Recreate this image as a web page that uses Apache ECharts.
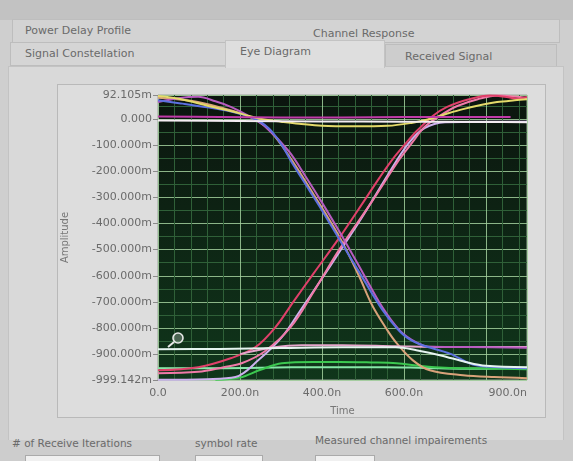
<!DOCTYPE html>
<html>
<head>
<meta charset="utf-8">
<script src="https://cdn.jsdelivr.net/npm/echarts@6/dist/echarts.min.js"></script>
<style>
  html, body { margin:0; padding:0; width:573px; height:461px; overflow:hidden; background:#cfcfcf; font-family:"DejaVu Sans", sans-serif; }
  .abs { position:absolute; box-sizing:border-box; }
  .t { position:absolute; color:#6a6a6a; font-size:11px; white-space:nowrap; }
</style>
</head>
<body>
<div class="abs" style="left:0;top:0;width:573px;height:20px;background:#c2c2c2;"></div>
<div class="abs" style="left:12px;top:19px;width:548px;height:24px;background:#d3d3d3;border:1px solid #bdbdbd;"></div>
<div class="abs" style="left:10px;top:42px;width:216px;height:24px;background:#d5d5d5;border:1px solid #bdbdbd;"></div>
<div class="abs" style="left:385px;top:44px;width:172px;height:24px;background:#cdcdcd;border:1px solid #bdbdbd;"></div>
<div class="abs" style="left:8px;top:66px;width:556px;height:376px;background:#d9d9d9;border:1px solid #c3c3c3;"></div>
<div class="abs" style="left:225px;top:40px;width:160px;height:28px;background:#dedede;border:1px solid #c3c3c3;border-bottom:none;"></div>
<div class="abs" style="left:57px;top:84px;width:489px;height:334px;background:#dddddd;border:1px solid #b9b9b9;"></div>
<div class="abs" style="left:0;top:440px;width:573px;height:21px;background:#cdcdcd;"></div>
<div class="abs" style="left:25px;top:455px;width:135px;height:10px;background:#f0f0f0;border:1px solid #aaa;"></div>
<div class="abs" style="left:195px;top:455px;width:68px;height:10px;background:#f0f0f0;border:1px solid #aaa;"></div>
<div class="abs" style="left:315px;top:455px;width:60px;height:10px;background:#f0f0f0;border:1px solid #aaa;"></div>

<div class="t" style="left:25px;top:24px;">Power Delay Profile</div>
<div class="t" style="left:313px;top:27px;">Channel Response</div>
<div class="t" style="left:25px;top:47px;">Signal Constellation</div>
<div class="t" style="left:240px;top:45px;">Eye Diagram</div>
<div class="t" style="left:405px;top:50px;">Received Signal</div>
<div class="t" style="left:12px;top:437px;font-size:10.5px;"># of Receive Iterations</div>
<div class="t" style="left:195px;top:437px;font-size:10.5px;">symbol rate</div>
<div class="t" style="left:315px;top:434px;font-size:10.5px;">Measured channel impairements</div>

<div id="chart" style="position:absolute;left:0;top:0;width:573px;height:461px;"></div>
<script>
// ---- tick labels ----
const timeTicks = [0, 200, 400, 600, 900];
const ampTicks = [-999.142, -900, -800, -700, -600, -500, -400, -300, -200, -100, 0, 92.105];

// ---- traces: [time (ns), amplitude (m)] ----
const yellowTrace = [[0,88],[60,75],[123,50],[180,30],[221,12],[260,-2],[300,-10],[344,-18],[400,-26],[480,-28],[560,-26],[621,-14],[663,0],[704,20],[744,38],[790,55],[827,65],[870,72],[900,76]];
const magentaFlat = [[0,10],[150,8],[300,6],[450,6],[600,8],[750,8],[860,8]];
const whiteTop = [[0,-6],[200,-7],[400,-9],[600,-10],[800,-11],[900,-12]];
const blueFall = [[0,72],[56,60],[120,45],[180,28],[230,5],[270,-35],[302,-100],[326,-165],[370,-275],[400,-350],[442,-460],[500,-610],[547,-730],[582,-800],[610,-840],[645,-866],[712,-898],[768,-940],[830,-950],[900,-954]];
const pinkFall = [[0,65],[50,80],[98,85],[140,68],[179,46],[221,12],[263,-31],[319,-123],[360,-220],[400,-320],[442,-430],[500,-590],[547,-720],[590,-810],[630,-855],[663,-872],[760,-873],[900,-876]];
const tanFall = [[0,82],[80,70],[150,45],[221,10],[270,-40],[319,-140],[380,-290],[442,-450],[490,-600],[523,-715],[560,-810],[582,-858],[621,-923],[663,-962],[744,-981],[820,-988],[900,-992]];
const redRise = [[0,-962],[98,-950],[179,-915],[238,-873],[287,-796],[330,-700],[380,-590],[442,-455],[500,-320],[540,-225],[572,-154],[606,-90],[631,-46],[670,12],[704,46],[761,77],[810,90],[850,84],[876,78],[900,85]];
const pinkRise = [[0,-973],[98,-968],[160,-950],[204,-935],[260,-890],[324,-796],[380,-660],[442,-500],[520,-320],[589,-154],[625,-80],[650,-30],[690,15],[730,50],[780,76],[830,90],[870,86],[900,80]];
const lavenderRise = [[0,-998],[120,-996],[189,-988],[245,-923],[302,-835],[348,-731],[400,-610],[442,-510],[500,-370],[560,-215],[610,-95],[650,-35],[700,-12],[800,-10],[900,-10]];
const greenLow = [[140,-998],[200,-990],[250,-960],[302,-935],[380,-930],[442,-930],[520,-932],[582,-935],[640,-945],[700,-952],[800,-955],[900,-958]];
const lightGreen = [[0,-954],[140,-954],[250,-952],[400,-950],[550,-950],[650,-953],[750,-956],[900,-952]];
const whiteBottom = [[0,-881],[150,-880],[300,-877],[450,-874],[580,-874],[630,-885],[690,-905],[750,-930],[800,-945],[900,-950]];
const pinkBottom = [[200,-900],[280,-875],[350,-866],[450,-866],[580,-870],[700,-873],[900,-873]];

const traces = [
  ['lightGreen', lightGreen, '#86e8a8'],
  ['greenLow', greenLow, '#3cc850'],
  ['tanFall', tanFall, '#d9a27a'],
  ['lavenderRise', lavenderRise, '#cdb0ee'],
  ['pinkRise', pinkRise, '#f07aa8'],
  ['redRise', redRise, '#e0406a'],
  ['pinkBottom', pinkBottom, '#e6a6cc'],
  ['pinkFall', pinkFall, '#b85cc0'],
  ['blueFall', blueFall, '#5c70e0'],
  ['yellow', yellowTrace, '#e4da6a'],
  ['magentaFlat', magentaFlat, '#c03aa8'],
  ['whiteTop', whiteTop, '#f4ecf2'],
  ['whiteBottom', whiteBottom, '#e6f4f0']
];

const chart = echarts.init(document.getElementById('chart'), null, {renderer: 'canvas'});
chart.setOption({
  animation: false,
  backgroundColor: 'transparent',
  grid: {
    left: 158, right: 46, top: 95, bottom: 81,
    show: true,
    backgroundColor: new echarts.graphic.LinearGradient(0, 0, 0, 1, [
      {offset: 0, color: '#0b150e'}, {offset: 1, color: '#10361b'}
    ]),
    borderColor: '#9aa59a', borderWidth: 1
  },
  xAxis: {
    type: 'value', min: 0, max: 900, interval: 200,
    name: 'Time', nameLocation: 'middle', nameGap: 26,
    nameTextStyle: {color: '#777', fontSize: 10, fontFamily: 'DejaVu Sans'},
    axisLine: {show: false},
    axisTick: {show: false},
    axisLabel: {
      customValues: timeTicks, color: '#6a6a6a', fontSize: 11, margin: 8,
      fontFamily: 'DejaVu Sans', alignMaxLabel: 'right',
      formatter: v => v === 0 ? '0.0' : v.toFixed(1) + 'n'
    },
    splitLine: {show: true, lineStyle: {color: '#a2cf9c', width: 1, opacity: 0.85}},
    minorTick: {show: false, splitNumber: 5},
    minorSplitLine: {show: true, lineStyle: {color: '#2f6038', width: 1}}
  },
  yAxis: {
    type: 'value', min: -999.142, max: 92.105, splitNumber: 10,
    name: 'Amplitude', nameLocation: 'middle', nameGap: 88, nameRotate: 90,
    nameTextStyle: {color: '#777', fontSize: 10, fontFamily: 'DejaVu Sans'},
    axisLine: {show: false},
    axisTick: {show: true, customValues: ampTicks, length: 5, lineStyle: {color: '#8a8a8a'}},
    axisLabel: {
      customValues: ampTicks, color: '#6a6a6a', fontSize: 11, margin: 6,
      fontFamily: 'DejaVu Sans',
      formatter: v => v === 0 ? '0.000' : v.toFixed(3) + 'm'
    },
    splitLine: {show: true, lineStyle: {color: '#a2cf9c', width: 1, opacity: 0.85}},
    minorTick: {show: false, splitNumber: 2},
    minorSplitLine: {show: true, lineStyle: {color: '#2f6038', width: 1}}
  },
  graphic: [
    {type: 'circle', x: 178, y: 338, shape: {r: 5}, style: {stroke: '#e8e8e8', lineWidth: 1.6, fill: 'rgba(255,255,255,0.25)'}, z: 100},
    {type: 'line', shape: {x1: 174, y1: 342, x2: 168, y2: 347}, style: {stroke: '#e8e8e8', lineWidth: 2}, z: 100}
  ],
  series: traces.map(([name, data, color]) => ({
    name, type: 'line', data, smooth: 0.35, showSymbol: false,
    lineStyle: {color, width: 2}, itemStyle: {color}
  }))
});
</script>
</body>
</html>
